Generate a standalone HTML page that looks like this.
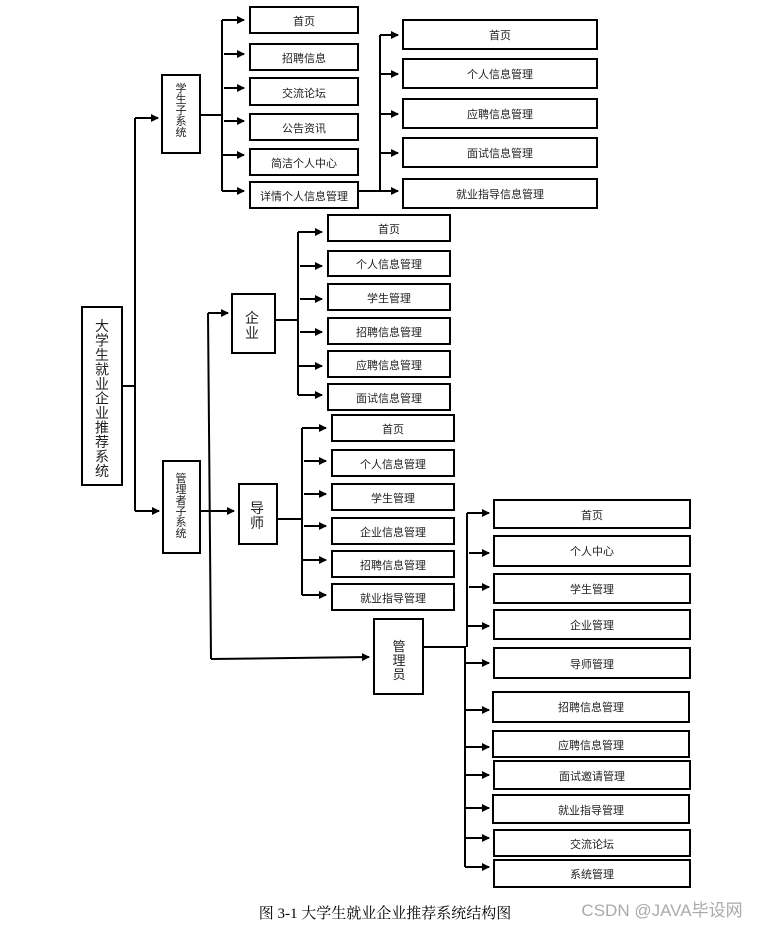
<!DOCTYPE html>
<html><head><meta charset="utf-8"><style>
html,body{margin:0;padding:0;background:#fff;width:760px;height:928px;overflow:hidden}
svg text{font-family:"Liberation Sans","Noto Sans CJK SC",sans-serif;font-size:11px;fill:#222;text-anchor:middle}
</style></head><body>
<svg width="760" height="928" viewBox="0 0 760 928" xmlns="http://www.w3.org/2000/svg">
<defs><marker id="a" markerWidth="8" markerHeight="8" refX="7" refY="4" orient="auto" markerUnits="userSpaceOnUse"><path d="M0,0 L8,4 L0,8 z" fill="#000"/></marker></defs>
<g fill="none" stroke="#000" stroke-width="2">
<rect x="82" y="307" width="40" height="178"/>
<path d="M122,386 H135 M135,118 V511"/>
<path d="M135,118 H158" marker-end="url(#a)"/>
<path d="M135,511 H159" marker-end="url(#a)"/>
<rect x="162" y="75" width="38" height="78"/>
<rect x="163" y="461" width="37" height="92"/>
<path d="M200,115 H222 M222,20 V191"/>
<path d="M222,20 H244" marker-end="url(#a)"/>
<path d="M224,54 H244" marker-end="url(#a)"/>
<path d="M224,88 H244" marker-end="url(#a)"/>
<path d="M224,121 H244" marker-end="url(#a)"/>
<path d="M222,155 H244" marker-end="url(#a)"/>
<path d="M222,191 H244" marker-end="url(#a)"/>
<rect x="250" y="7" width="108" height="26"/>
<rect x="250" y="44" width="108" height="26"/>
<rect x="250" y="78" width="108" height="27"/>
<rect x="250" y="114" width="108" height="26"/>
<rect x="250" y="149" width="108" height="26"/>
<rect x="250" y="182" width="108" height="26"/>
<path d="M358,191 H380 M380,35 V191"/>
<path d="M380,35 H398" marker-end="url(#a)"/>
<path d="M380,74 H398" marker-end="url(#a)"/>
<path d="M380,114 H398" marker-end="url(#a)"/>
<path d="M380,153 H398" marker-end="url(#a)"/>
<path d="M380,191 H398" marker-end="url(#a)"/>
<rect x="403" y="20" width="194" height="29"/>
<rect x="403" y="59" width="194" height="29"/>
<rect x="403" y="99" width="194" height="29"/>
<rect x="403" y="138" width="194" height="29"/>
<rect x="403" y="179" width="194" height="29"/>
<path d="M200,511 H208 M208,313 L211,659"/>
<path d="M208,313 H228" marker-end="url(#a)"/>
<path d="M208,511 H234" marker-end="url(#a)"/>
<path d="M211,659 L369,657" marker-end="url(#a)"/>
<rect x="232" y="294" width="43" height="59"/>
<rect x="239" y="484" width="38" height="60"/>
<rect x="374" y="619" width="49" height="75"/>
<path d="M275,320 H298 M298,232 V395"/>
<path d="M298,232 H322" marker-end="url(#a)"/>
<path d="M300,266 H322" marker-end="url(#a)"/>
<path d="M300,299 H322" marker-end="url(#a)"/>
<path d="M300,332 H322" marker-end="url(#a)"/>
<path d="M298,366 H322" marker-end="url(#a)"/>
<path d="M298,395 H322" marker-end="url(#a)"/>
<rect x="328" y="215" width="122" height="26"/>
<rect x="328" y="251" width="122" height="25"/>
<rect x="328" y="284" width="122" height="26"/>
<rect x="328" y="318" width="122" height="26"/>
<rect x="328" y="351" width="122" height="26"/>
<rect x="328" y="384" width="122" height="26"/>
<path d="M277,519 H302 M302,428 V595"/>
<path d="M302,428 H326" marker-end="url(#a)"/>
<path d="M304,461 H326" marker-end="url(#a)"/>
<path d="M304,494 H326" marker-end="url(#a)"/>
<path d="M304,526 H326" marker-end="url(#a)"/>
<path d="M302,560 H326" marker-end="url(#a)"/>
<path d="M302,595 H326" marker-end="url(#a)"/>
<rect x="332" y="415" width="122" height="26"/>
<rect x="332" y="450" width="122" height="26"/>
<rect x="332" y="484" width="122" height="26"/>
<rect x="332" y="518" width="122" height="26"/>
<rect x="332" y="551" width="122" height="26"/>
<rect x="332" y="584" width="122" height="26"/>
<path d="M423,647 H466 M467,513 V647 M465,647 V867"/>
<path d="M467,513 H489" marker-end="url(#a)"/>
<path d="M469,553 H489" marker-end="url(#a)"/>
<path d="M469,587 H489" marker-end="url(#a)"/>
<path d="M467,626 H489" marker-end="url(#a)"/>
<path d="M465,663 H489" marker-end="url(#a)"/>
<path d="M465,710 H489" marker-end="url(#a)"/>
<path d="M465,747 H489" marker-end="url(#a)"/>
<path d="M465,775 H489" marker-end="url(#a)"/>
<path d="M465,808 H489" marker-end="url(#a)"/>
<path d="M465,838 H489" marker-end="url(#a)"/>
<path d="M465,867 H489" marker-end="url(#a)"/>
<rect x="494" y="500" width="196" height="28"/>
<rect x="494" y="536" width="196" height="30"/>
<rect x="494" y="574" width="196" height="29"/>
<rect x="494" y="610" width="196" height="29"/>
<rect x="494" y="648" width="196" height="30"/>
<rect x="493" y="692" width="196" height="30"/>
<rect x="493" y="731" width="196" height="26"/>
<rect x="494" y="761" width="196" height="28"/>
<rect x="493" y="795" width="196" height="28"/>
<rect x="494" y="830" width="196" height="26"/>
<rect x="494" y="860" width="196" height="27"/>
</g>
<g>
<g style="font-size:14px">
<text x="102" y="331" style="font-size:14px">大</text><text x="102" y="345.5" style="font-size:14px">学</text><text x="102" y="360" style="font-size:14px">生</text><text x="102" y="374.5" style="font-size:14px">就</text><text x="102" y="389" style="font-size:14px">业</text><text x="102" y="403.5" style="font-size:14px">企</text><text x="102" y="418" style="font-size:14px">业</text><text x="102" y="432.5" style="font-size:14px">推</text><text x="102" y="447" style="font-size:14px">荐</text><text x="102" y="461.5" style="font-size:14px">系</text><text x="102" y="476" style="font-size:14px">统</text>
</g>
<text x="181" y="92">学</text><text x="181" y="103">生</text><text x="181" y="114">子</text><text x="181" y="125">系</text><text x="181" y="136">统</text>
<text x="181" y="482">管</text><text x="181" y="493">理</text><text x="181" y="504">者</text><text x="181" y="515">子</text><text x="181" y="526">系</text><text x="181" y="537">统</text>
<text x="252" y="323" style="font-size:14px">企</text><text x="252" y="338" style="font-size:14px">业</text>
<text x="257" y="513" style="font-size:14px">导</text><text x="257" y="528" style="font-size:14px">师</text>
<text x="399" y="651" style="font-size:13px">管</text><text x="399" y="665" style="font-size:13px">理</text><text x="399" y="679" style="font-size:13px">员</text>
<text x="304" y="25">首页</text><text x="304" y="62">招聘信息</text><text x="304" y="97">交流论坛</text><text x="304" y="132">公告资讯</text><text x="304" y="167">简洁个人中心</text><text x="304" y="200">详情个人信息管理</text>
<text x="500" y="39">首页</text><text x="500" y="78">个人信息管理</text><text x="500" y="118">应聘信息管理</text><text x="500" y="157">面试信息管理</text><text x="500" y="198">就业指导信息管理</text>
<text x="389" y="233">首页</text><text x="389" y="268">个人信息管理</text><text x="389" y="302">学生管理</text><text x="389" y="336">招聘信息管理</text><text x="389" y="369">应聘信息管理</text><text x="389" y="402">面试信息管理</text>
<text x="393" y="433">首页</text><text x="393" y="468">个人信息管理</text><text x="393" y="502">学生管理</text><text x="393" y="536">企业信息管理</text><text x="393" y="569">招聘信息管理</text><text x="393" y="602">就业指导管理</text>
<text x="592" y="519">首页</text><text x="592" y="555">个人中心</text><text x="592" y="593">学生管理</text><text x="592" y="629">企业管理</text><text x="592" y="668">导师管理</text><text x="591" y="711">招聘信息管理</text><text x="591" y="749">应聘信息管理</text><text x="592" y="780">面试邀请管理</text><text x="591" y="814">就业指导管理</text><text x="592" y="848">交流论坛</text><text x="592" y="878">系统管理</text>
<text x="385" y="918" style="font-family:'Liberation Serif','Noto Serif CJK SC',serif;font-size:15px;fill:#000">图 3-1  大学生就业企业推荐系统结构图</text>
<text x="662" y="916" style="font-size:17px;fill:#aaa">CSDN @JAVA毕设网</text>
</g>
</svg>
</body></html>
